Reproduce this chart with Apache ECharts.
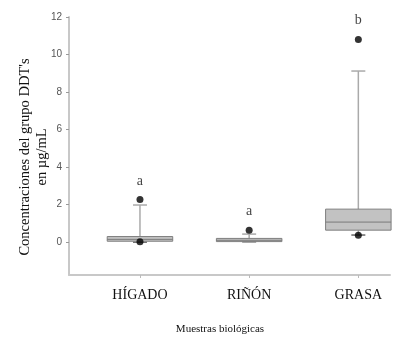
<!DOCTYPE html>
<html><head><meta charset="utf-8">
<script src="https://cdn.jsdelivr.net/npm/echarts@6/dist/echarts.min.js"></script>
<style>html,body{margin:0;padding:0;background:#fff}#c{width:416px;height:339px}</style>
</head><body><div id="c"></div>
<script>
const categories = ['HÍGADO', 'RIÑÓN', 'GRASA'];
const boxStats = [ // [min, Q1, median, Q3, max]
  [0.0, 0.05, 0.15, 0.3, 1.98],
  [0.02, 0.03, 0.1, 0.2, 0.43],
  [0.38, 0.64, 1.07, 1.76, 9.12]
];
const outliers = [[1, 2.27], [1, 0.02], [2, 0.64], [3, 10.8], [3, 0.37]];
const letters = ['a', 'a', 'b'];
const letterY = [3.25, 1.65, 11.8];
const yTicks = [0, 2, 4, 6, 8, 10, 12];

const chart = echarts.init(document.getElementById('c'));
const boxData = boxStats.map((s, i) => [i + 1].concat(s));
chart.setOption({
  animation: false,
  grid: {left: 69, top: 17, right: 26, bottom: 64},
  xAxis: {
    type: 'value', min: 0.35, max: 3.29,
    splitLine: {show: false},
    axisLine: {show: true, onZero: false, lineStyle: {color: '#c8c8c8', width: 2}},
    axisTick: {show: true, customValues: [1, 2, 3], length: 3, lineStyle: {color: '#bbb'}},
    axisLabel: {customValues: [1, 2, 3], formatter: v => categories[Math.round(v) - 1] || '',
      fontFamily: 'Liberation Serif', fontSize: 14, color: '#111', margin: 13}
  },
  yAxis: {
    type: 'value', min: -1.75, max: 12,
    splitLine: {show: false},
    axisLine: {show: true, onZero: false, lineStyle: {color: '#c8c8c8', width: 2}},
    axisTick: {show: true, customValues: yTicks, length: 3, lineStyle: {color: '#999'}},
    axisLabel: {customValues: yTicks, fontFamily: 'Liberation Sans', fontSize: 10, color: '#555', margin: 7}
  },
  graphic: [
    {type: 'text', x: 34, y: 157, rotation: Math.PI / 2,
      style: {text: "Concentraciones del grupo DDT's\nen µg/mL", align: 'center', verticalAlign: 'middle',
        font: '14.5px "Liberation Serif"', fill: '#111', lineHeight: 17}},
    {type: 'text', x: 220, y: 329,
      style: {text: 'Muestras biológicas', align: 'center', verticalAlign: 'middle',
        font: '11px "Liberation Serif"', fill: '#111'}}
  ],
  series: [
    {
      type: 'custom',
      data: boxData,
      renderItem: function (params, api) {
        const x = api.value(0);
        const vals = [1, 2, 3, 4, 5].map(d => api.value(d));
        const half = 0.3;
        const pMin = api.coord([x, vals[0]]);
        const pQ1 = api.coord([x, vals[1]]);
        const pMed = api.coord([x, vals[2]]);
        const pQ3 = api.coord([x, vals[3]]);
        const pMax = api.coord([x, vals[4]]);
        const left = api.coord([x - half, 0])[0];
        const right = api.coord([x + half, 0])[0];
        const cap = 7;
        const wStyle = {stroke: '#aaaaaa', lineWidth: 1.5};
        return {
          type: 'group',
          children: [
            {type: 'line', shape: {x1: pQ3[0], y1: pQ3[1], x2: pMax[0], y2: pMax[1]}, style: wStyle},
            {type: 'line', shape: {x1: pMax[0] - cap, y1: pMax[1], x2: pMax[0] + cap, y2: pMax[1]}, style: wStyle},
            {type: 'line', shape: {x1: pQ1[0], y1: pQ1[1], x2: pMin[0], y2: pMin[1]}, style: wStyle},
            {type: 'line', shape: {x1: pMin[0] - cap, y1: pMin[1], x2: pMin[0] + cap, y2: pMin[1]}, style: {stroke: '#666', lineWidth: 1.5}},
            {type: 'rect', shape: {x: left, y: pQ3[1], width: right - left, height: Math.max(pQ1[1] - pQ3[1], 2)},
              style: {fill: '#c2c2c2', stroke: '#7f7f7f', lineWidth: 1}},
            {type: 'line', shape: {x1: left, y1: pMed[1], x2: right, y2: pMed[1]}, style: {stroke: '#7a7a7a', lineWidth: 1}}
          ]
        };
      },
      z: 2
    },
    {
      type: 'scatter', data: outliers, symbol: 'circle', symbolSize: 7,
      itemStyle: {color: '#000'}, z: 3
    },
    {
      type: 'scatter', data: letters.map((l, i) => ({value: [i + 1, letterY[i]], name: l})),
      symbolSize: 1, itemStyle: {color: 'rgba(0,0,0,0)'},
      label: {show: true, position: 'inside', formatter: p => p.name,
        fontFamily: 'Liberation Serif', fontSize: 14, color: '#111'}, z: 4
    }
  ]
});
</script></body></html>
